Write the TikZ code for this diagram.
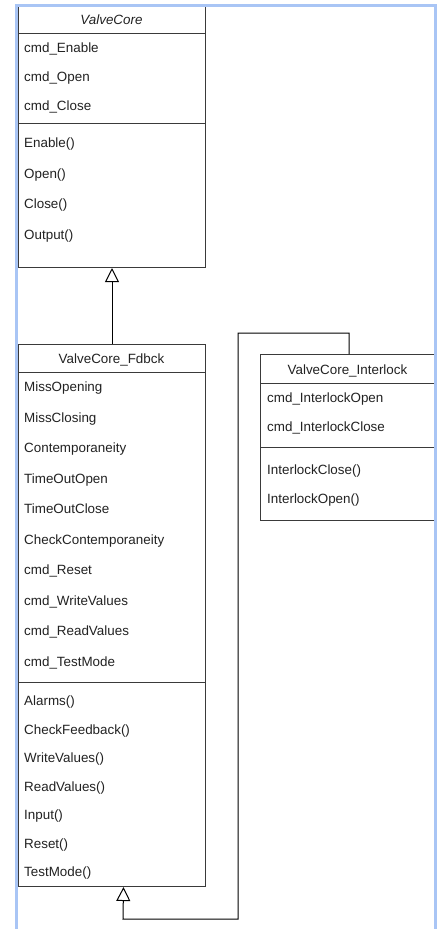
\documentclass[tikz,border=0pt]{standalone}
\usepackage{fontspec}
\setmainfont{Liberation Sans}
\usetikzlibrary{arrows.meta}
\definecolor{framec}{HTML}{A9C5F5}
\definecolor{linec}{HTML}{3A3A3A}
\definecolor{textc}{HTML}{222222}
\tikzset{
  classbox/.style={draw=linec, line width=1bp, anchor=north west, inner sep=0, fill=white},
  sepline/.style={draw=linec, line width=1bp},
  member/.style={anchor=base west, yshift=-4.6bp, inner sep=0, text=textc, font=\fontsize{13.4bp}{15bp}\selectfont},
  title/.style={anchor=base, yshift=-4.6bp, inner sep=0, text=textc, font=\fontsize{13.4bp}{15bp}\selectfont},
  inh/.style={draw=black, line width=1bp, -{Triangle[open, length=14bp, width=14bp]}},
  frameline/.style={draw=framec, line width=3bp}
}
\begin{document}
\begin{tikzpicture}[x=1bp,y=-1bp]
\useasboundingbox (0,0) rectangle (442,929);
\fill[white] (0,0) rectangle (442,929);

% ValveCore
\node[classbox, minimum width=187bp, minimum height=261bp] (vc) at (18,6) {};
\draw[sepline] (vc.west |- 0,33) -- (vc.east |- 0,33);
\draw[sepline] (vc.west |- 0,123) -- (vc.east |- 0,123);
\node[title, font=\fontsize{13.4bp}{15bp}\selectfont\itshape] (vct) at (111.5,20) {ValveCore};
\node[member] (vca1) at (24,48) {cmd\_Enable};
\node[member] (vca2) at (24,77) {cmd\_Open};
\node[member] (vca3) at (24,105.5) {cmd\_Close};
\node[member] (vcm1) at (24,143) {Enable()};
\node[member] (vcm2) at (24,174) {Open()};
\node[member] (vcm3) at (24,204) {Close()};
\node[member] (vcm4) at (24,235) {Output()};

% ValveCore_Fdbck
\node[classbox, minimum width=187bp, minimum height=542bp] (fd) at (18,344) {};
\draw[sepline] (fd.west |- 0,372) -- (fd.east |- 0,372);
\draw[sepline] (fd.west |- 0,682) -- (fd.east |- 0,682);
\node[title] (fdt) at (111.5,358.5) {ValveCore\_Fdbck};
\node[member] (fda1) at (24,387) {MissOpening};
\node[member] (fda2) at (24,417.5) {MissClosing};
\node[member] (fda3) at (24,448) {Contemporaneity};
\node[member] (fda4) at (24,478.5) {TimeOutOpen};
\node[member] (fda5) at (24,509) {TimeOutClose};
\node[member] (fda6) at (24,539.5) {CheckContemporaneity};
\node[member] (fda7) at (24,570) {cmd\_Reset};
\node[member] (fda8) at (24,600.5) {cmd\_WriteValues};
\node[member] (fda9) at (24,631) {cmd\_ReadValues};
\node[member] (fda10) at (24,661.5) {cmd\_TestMode};
\node[member] (fdm1) at (24,701) {Alarms()};
\node[member] (fdm2) at (24,729.5) {CheckFeedback()};
\node[member] (fdm3) at (24,758) {WriteValues()};
\node[member] (fdm4) at (24,786.5) {ReadValues()};
\node[member] (fdm5) at (24,815) {Input()};
\node[member] (fdm6) at (24,843.5) {Reset()};
\node[member] (fdm7) at (24,872) {TestMode()};

% ValveCore_Interlock
\node[classbox, minimum width=174bp, minimum height=166bp] (il) at (260,354) {};
\draw[sepline] (il.west |- 0,383) -- (il.east |- 0,383);
\draw[sepline] (il.west |- 0,447) -- (il.east |- 0,447);
\node[title] (ilt) at (347.5,370) {ValveCore\_Interlock};
\node[member] (ila1) at (267,398) {cmd\_InterlockOpen};
\node[member] (ila2) at (267,427) {cmd\_InterlockClose};
\node[member] (ilm1) at (267,470) {InterlockClose()};
\node[member] (ilm2) at (267,499) {InterlockOpen()};

% inheritance connectors
\draw[inh] (fd.north) -- (vc.south);
\coordinate (c1) at (238,333);
\coordinate (c2) at (238,919);
\coordinate (c3) at (123,919);
\draw[inh] ([xshift=1.5bp]il.north) |- (c1) -- (c2) -- (c3) -- ([xshift=11.5bp]fd.south);

% window frame
\draw[frameline] (16.5,929) -- (16.5,5.5) -- (435.5,5.5) -- (435.5,929);
\end{tikzpicture}
\end{document}
